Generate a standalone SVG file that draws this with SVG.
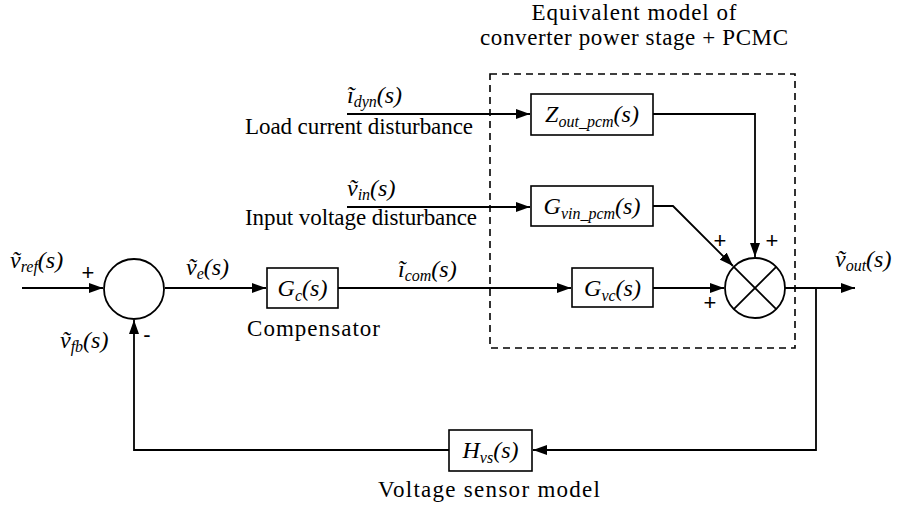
<svg xmlns="http://www.w3.org/2000/svg" width="897" height="508" viewBox="0 0 897 508">
<style>
.t{font-size:23px;font-family:'Liberation Serif','Times New Roman',serif}
.m{font-size:24px;font-style:italic;font-family:'Liberation Serif','Times New Roman',serif}
.sub{font-size:16px}
.pl{font-size:22px;font-family:'Liberation Sans',Arial,sans-serif}
.ln{fill:none;stroke:#000;stroke-width:1.8}
.bx{fill:#fff;stroke:#000;stroke-width:1.6}
</style>
<defs>
<marker id="ah" markerWidth="14" markerHeight="10" refX="14" refY="5" orient="auto" markerUnits="userSpaceOnUse">
<path d="M0,0 L14,5 L0,10 Z" fill="#000"/>
</marker>
</defs>

<rect x="490" y="74" width="305" height="274" fill="none" stroke="#000" stroke-width="1.6" stroke-dasharray="7,5"/>
<text class="t" x="634" y="20" text-anchor="middle" textLength="205">Equivalent model of</text>
<text class="t" x="634" y="45" text-anchor="middle" textLength="308">converter power stage + PCMC</text>

<g id="connectors">
<line class="ln" x1="22" y1="288" x2="103" y2="288" marker-end="url(#ah)"/>
<line class="ln" x1="165" y1="288" x2="266" y2="288" marker-end="url(#ah)"/>
<line class="ln" x1="338" y1="288" x2="571" y2="288" marker-end="url(#ah)"/>
<line class="ln" x1="653" y1="288" x2="724" y2="288" marker-end="url(#ah)"/>
<line class="ln" x1="347" y1="114" x2="530" y2="114" marker-end="url(#ah)"/>
<line class="ln" x1="347" y1="207" x2="530" y2="207" marker-end="url(#ah)"/>
<polyline class="ln" points="653,114 755,114 755,257" marker-end="url(#ah)"/>
<polyline class="ln" points="653,206 673,206 733,266" marker-end="url(#ah)"/>
<line class="ln" x1="785" y1="288" x2="855" y2="288" marker-end="url(#ah)"/>
<polyline class="ln" points="816,288 816,450 533,450" marker-end="url(#ah)"/>
<polyline class="ln" points="449,450 134,450 134,320" marker-end="url(#ah)"/>
</g>

<g id="sum">
<circle cx="134" cy="289" r="30" fill="#fff" stroke="#000" stroke-width="1.8"/>
</g>
<g id="mult">
<circle cx="755" cy="288" r="30" fill="#fff" stroke="#000" stroke-width="1.8"/>
<line class="ln" x1="733.8" y1="266.8" x2="776.2" y2="309.2"/>
<line class="ln" x1="776.2" y1="266.8" x2="733.8" y2="309.2"/>
</g>

<g id="Gc">
<rect class="bx" x="267" y="268" width="71" height="40"/>
<text class="m" x="302.5" y="296" text-anchor="middle">G<tspan class="sub" dy="5">c</tspan><tspan dy="-5">(s)</tspan></text>
</g>
<g id="Gvc">
<rect class="bx" x="572" y="268" width="81" height="39"/>
<text class="m" x="612.5" y="296" text-anchor="middle">G<tspan class="sub" dy="5">vc</tspan><tspan dy="-5">(s)</tspan></text>
</g>
<g id="Gvin">
<rect class="bx" x="531" y="186" width="122" height="40"/>
<text class="m" x="592" y="214" text-anchor="middle">G<tspan class="sub" dy="5">vin_pcm</tspan><tspan dy="-5">(s)</tspan></text>
</g>
<g id="Zout">
<rect class="bx" x="531" y="94" width="122" height="41"/>
<text class="m" x="592" y="122" text-anchor="middle">Z<tspan class="sub" dy="5">out_pcm</tspan><tspan dy="-5">(s)</tspan></text>
</g>
<g id="Hvs">
<rect class="bx" x="449" y="430" width="83" height="41"/>
<text class="m" x="490.5" y="458" text-anchor="middle">H<tspan class="sub" dy="5">vs</tspan><tspan dy="-5">(s)</tspan></text>
</g>

<g id="labels">
<text class="m" x="10" y="268">ṽ<tspan class="sub" dy="4">ref</tspan><tspan dy="-4">(s)</tspan></text>
<text class="m" x="186" y="275">ṽ<tspan class="sub" dy="4">e</tspan><tspan dy="-4">(s)</tspan></text>
<text class="m" x="60" y="348">ṽ<tspan class="sub" dy="4">fb</tspan><tspan dy="-4">(s)</tspan></text>
<text class="m" x="398" y="277">ĩ<tspan class="sub" dy="4">com</tspan><tspan dy="-4">(s)</tspan></text>
<text class="m" x="835" y="267">ṽ<tspan class="sub" dy="4">out</tspan><tspan dy="-4">(s)</tspan></text>
<text class="m" x="347" y="103">ĩ<tspan class="sub" dy="4">dyn</tspan><tspan dy="-4">(s)</tspan></text>
<text class="m" x="347" y="196">ṽ<tspan class="sub" dy="4">in</tspan><tspan dy="-4">(s)</tspan></text>

<text class="t" x="245" y="134" textLength="228">Load current disturbance</text>
<text class="t" x="245" y="225" textLength="232">Input voltage disturbance</text>
<text class="t" x="247" y="336" textLength="133">Compensator</text>
<text class="t" x="378" y="497" textLength="222">Voltage sensor model</text>

<text class="pl" x="88" y="280" text-anchor="middle">+</text>
<text class="pl" x="147" y="342" text-anchor="middle">-</text>
<text class="pl" x="720" y="248" text-anchor="middle">+</text>
<text class="pl" x="772" y="248" text-anchor="middle">+</text>
<text class="pl" x="710" y="310" text-anchor="middle">+</text>
</g>
</svg>
